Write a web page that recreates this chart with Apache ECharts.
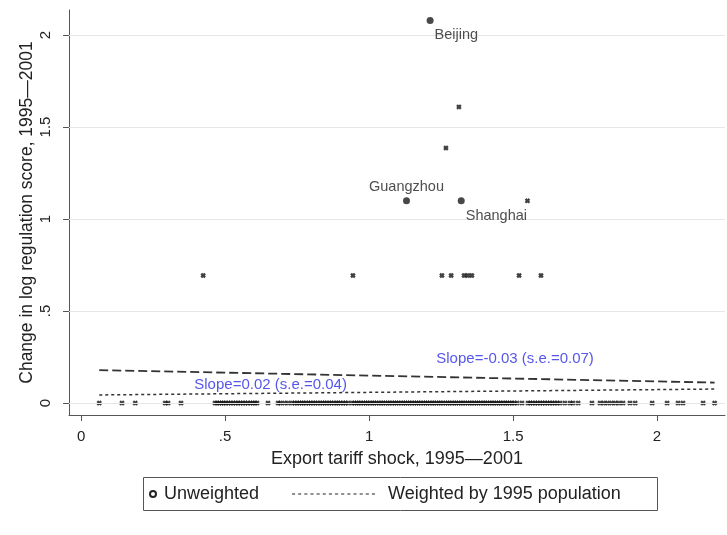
<!DOCTYPE html>
<html>
<head>
<meta charset="utf-8">
<script src="https://cdn.jsdelivr.net/npm/echarts@6/dist/echarts.min.js"></script>
<style>
html,body{margin:0;padding:0;background:#fff}
#main{width:727px;height:535px}
</style>
</head>
<body>
<div id="main"></div>
<script>
// tick values
const xTicks = [0, 0.5, 1, 1.5, 2];
const yTicks = [0, 0.5, 1, 1.5, 2];

// prefectures with no change in regulation score (y = 0), read off the bottom row
const zeroShock = [
    0.063, 0.142, 0.188, 0.292, 0.302, 0.347,
    0.465, 0.472, 0.48, 0.488, 0.495, 0.503, 0.511, 0.52, 0.528, 0.537, 0.545, 0.553, 0.562, 0.57, 0.579, 0.588, 0.596, 0.604, 0.611,
    0.649, 0.684, 0.692, 0.706, 0.719,
    0.733, 0.742, 0.75, 0.758, 0.766, 0.773, 0.781, 0.79, 0.797, 0.806, 0.813, 0.822, 0.83, 0.838, 0.846, 0.853, 0.862, 0.869, 0.878, 0.886, 0.893, 0.901, 0.91, 0.918, 0.927,
    0.941, 0.949, 0.957, 0.964, 0.972, 0.98, 0.988, 0.995, 1.003, 1.011, 1.018, 1.026, 1.034, 1.042, 1.049, 1.057, 1.065, 1.072, 1.08, 1.088, 1.095, 1.103, 1.111, 1.119,
    1.126, 1.134, 1.141, 1.149, 1.157, 1.165, 1.172, 1.18, 1.188, 1.196, 1.203, 1.211, 1.219, 1.226, 1.234, 1.242, 1.249, 1.257, 1.265, 1.273, 1.28, 1.288, 1.296,
    1.303, 1.311, 1.319, 1.326, 1.334, 1.342, 1.35, 1.357, 1.365, 1.373, 1.38, 1.388, 1.396, 1.403, 1.411, 1.419, 1.427, 1.434, 1.442, 1.45, 1.457, 1.465, 1.473,
    1.48, 1.488, 1.496, 1.504, 1.514, 1.531,
    1.552, 1.56, 1.568, 1.577, 1.585, 1.594, 1.602, 1.611, 1.619, 1.628, 1.636, 1.645, 1.653,
    1.663, 1.68, 1.698, 1.708, 1.726, 1.774,
    1.802, 1.815, 1.828, 1.842, 1.855, 1.868, 1.882,
    1.906, 1.924, 1.983, 2.035, 2.073, 2.09, 2.16, 2.2
];

// remaining prefectures with a positive change
const otherShock  = [0.424, 0.944, 1.253, 1.285, 1.33, 1.343, 1.357, 1.521, 1.597, 1.55, 1.267, 1.312];
const otherChange = [0.693, 0.693, 0.693, 0.693, 0.693, 0.693, 0.693, 0.693, 0.693, 1.099, 1.386, 1.609];

// labelled cities
const cityNames  = ["Beijing", "Guangzhou", "Shanghai"];
const cityShock  = [1.212, 1.13, 1.32];
const cityChange = [2.079, 1.099, 1.099];

// fitted lines (end points)
const fitUnweighted = [[0.063, 0.179], [2.2, 0.111]];
const fitWeighted   = [[0.063, 0.044], [2.2, 0.076]];

// slope annotations
const slopeTexts = ["Slope=-0.03 (s.e.=0.07)", "Slope=0.02 (s.e.=0.04)"];
const slopeX = [1.507, 0.658];
const slopeY = [0.241, 0.098];

const FONT = "'Liberation Sans', Helvetica, Arial, sans-serif";
const INK = "#222";
const cross = "path://M0,3L3,0L5,2L7,0L10,3L8,5L10,7L7,10L5,8L3,10L0,7L2,5Z";

// dotted legend icon
let dots = "path://";
for (let i = 0; i < 14; i++) {
    dots += "M" + (i * 6) + ",0h3v1h-3z";
}

const tickFmt = v => v === 0 ? "0" : String(v).replace(/^0\./, ".");

const myChart = echarts.init(document.getElementById("main"));
myChart.setOption({
    animation: false,
    textStyle: { fontFamily: FONT },
    grid: { left: 69, right: 2, top: 10, bottom: 120 },
    xAxis: {
        type: "value",
        min: -0.042,
        max: 2.236,
        name: "Export tariff shock, 1995\u20142001",
        nameLocation: "middle",
        nameGap: 35,
        nameMoveOverlap: false,
        nameTextStyle: { fontSize: 18, color: INK, fontFamily: FONT },
        axisLine: { onZero: false, lineStyle: { color: "#555", width: 1 } },
        axisTick: { customValues: xTicks, length: 6, lineStyle: { color: "#555" } },
        axisLabel: { customValues: xTicks, formatter: tickFmt, fontSize: 15, color: INK, margin: 14, fontFamily: FONT },
        splitLine: { show: false }
    },
    yAxis: {
        type: "value",
        min: -0.065,
        max: 2.136,
        name: "Change in log regulation score, 1995\u20142001",
        nameLocation: "middle",
        nameGap: 33,
        nameMoveOverlap: false,
        nameTextStyle: { fontSize: 17.5, color: INK, fontFamily: FONT },
        axisLine: { show: true, onZero: false, lineStyle: { color: "#555", width: 1 } },
        axisTick: { show: true, customValues: yTicks, length: 6, lineStyle: { color: "#555" } },
        axisLabel: { customValues: yTicks, formatter: tickFmt, fontSize: 15, color: INK, rotate: 90, margin: 16, fontFamily: FONT },
        splitLine: { show: false }
    },
    legend: [
        {
            data: [{ name: "Unweighted", icon: "emptyCircle", itemStyle: { borderWidth: 1 } }],
            left: 149, top: 485,
            padding: 0,
            itemWidth: 6, itemHeight: 6,
            selectedMode: false,
            textStyle: { fontSize: 18, color: INK, fontFamily: FONT, padding: [0, 0, 0, 3] }
        },
        {
            data: [{ name: "Weighted by 1995 population", icon: dots }],
            left: 292, top: 485,
            padding: 0,
            itemWidth: 83, itemHeight: 2,
            selectedMode: false,
            textStyle: { fontSize: 18, color: INK, fontFamily: FONT, padding: [0, 0, 0, 8] }
        }
    ],
    graphic: [{
        type: "rect",
        shape: { x: 143.5, y: 477.5, width: 514, height: 33 },
        style: { fill: "none", stroke: "#555", lineWidth: 1 },
        silent: true
    }],
    series: [
        {
            name: "grid",
            type: "line",
            data: [],
            z: 1,
            markLine: {
                silent: true,
                symbol: "none",
                label: { show: false },
                lineStyle: { color: "#e6e6e6", width: 1, type: "solid" },
                data: yTicks.map(v => ({ yAxis: v }))
            }
        },
        {
            name: "Unweighted",
            type: "line",
            data: fitUnweighted,
            showSymbol: false,
            color: INK,
            lineStyle: { color: "#333", width: 1.8, type: [9, 4] },
            z: 3
        },
        {
            name: "Weighted by 1995 population",
            type: "line",
            data: fitWeighted,
            showSymbol: false,
            color: INK,
            lineStyle: { color: "#333", width: 1.5, type: [3, 3] },
            z: 3
        },
        {
            name: "zero",
            type: "scatter",
            symbol: cross,
            symbolSize: 5.5,
            itemStyle: { color: "#111" },
            data: zeroShock.map(x => [x, 0]),
            z: 4
        },
        {
            name: "other",
            type: "scatter",
            symbol: cross,
            symbolSize: 5.5,
            itemStyle: { color: "#111" },
            data: otherShock.map((x, i) => [x, otherChange[i]]),
            z: 4
        },
        {
            name: "cities",
            type: "scatter",
            symbol: "circle",
            symbolSize: 7,
            itemStyle: { color: "#1a1a1a" },
            data: cityNames.map((n, i) => {
                let label;
                if (n === "Guangzhou") {
                    label = { show: true, position: "top", distance: 3 };
                } else {
                    label = { show: true, position: "right", distance: 1, offset: [0, 15] };
                }
                return { name: n, value: [cityShock[i], cityChange[i]], label: label };
            }),
            label: { formatter: "{b}", fontSize: 14.5, color: INK, fontFamily: FONT },
            z: 5
        },
        {
            name: "slopes",
            type: "scatter",
            symbolSize: 0,
            silent: true,
            data: slopeTexts.map((t, i) => ({ name: t, value: [slopeX[i], slopeY[i]] })),
            label: {
                show: true,
                position: "inside",
                formatter: "{b}",
                fontSize: 15,
                color: "#2a2ae6",
                fontFamily: FONT
            },
            z: 6
        }
    ]
});
</script>
</body>
</html>
